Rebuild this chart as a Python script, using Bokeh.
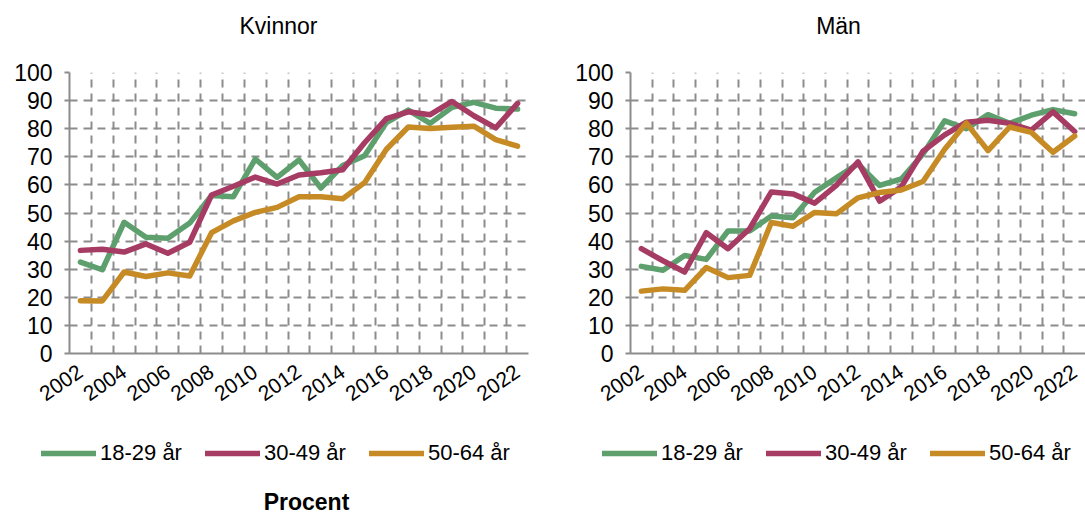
from bokeh.plotting import figure
from bokeh.models import Range1d, FixedTicker, Legend, LegendItem, Label
from bokeh.layouts import row, column
from bokeh.embed import file_html
from bokeh.resources import INLINE

years = list(range(2002, 2023))
year_ticks = list(range(2002, 2023, 2))
y_ticks = list(range(0, 101, 10))
series_labels = ["18-29 år", "30-49 år", "50-64 år"]

kvinnor_18_29 = [32.5, 29.8, 46.7, 41.4, 41.0, 46.4, 56.2, 55.8, 69.2, 62.7, 68.9,
                 58.9, 66.9, 70.4, 82.2, 86.6, 81.9, 87.6, 89.4, 87.3, 87.0]
kvinnor_30_49 = [36.7, 37.1, 36.1, 39.0, 35.7, 39.6, 56.4, 59.5, 62.8, 60.3, 63.5,
                 64.3, 65.4, 75.0, 83.6, 86.0, 85.0, 89.7, 84.6, 80.3, 89.0]
kvinnor_50_64 = [18.8, 18.7, 29.0, 27.4, 28.7, 27.6, 43.0, 47.2, 50.2, 52.0, 55.8,
                 55.8, 55.1, 60.8, 72.7, 80.6, 80.1, 80.5, 80.9, 76.1, 73.8]

man_18_29 = [31.0, 29.6, 34.9, 33.5, 43.6, 43.6, 48.9, 48.3, 57.4, 62.5, 67.5,
             59.8, 62.1, 71.0, 82.8, 80.0, 85.0, 81.9, 84.8, 86.8, 85.3]
man_30_49 = [37.3, 33.0, 29.0, 43.0, 37.3, 44.4, 57.5, 56.8, 53.5, 59.8, 68.2,
             54.2, 59.3, 72.0, 77.8, 82.3, 83.0, 81.9, 79.5, 86.0, 79.0]
man_50_64 = [22.2, 23.0, 22.5, 30.6, 27.0, 27.8, 46.6, 45.3, 50.2, 49.7, 55.4,
             57.3, 58.2, 61.2, 72.7, 82.0, 72.2, 80.6, 78.7, 71.6, 77.4]

colors = ["#5e9f6e", "#a63b63", "#c68b24"]
FONT = "Liberation Sans"
GRID = "#8c8c8c"
TITLE_H = 48
PLOT_H = 362
LEG_H = 106
LINE_W = 5.5


def blank(width, height):
    q = figure(width=width, height=height, output_backend="svg", toolbar_location=None,
               x_range=Range1d(0, 1), y_range=Range1d(0, 1),
               x_axis_type=None, y_axis_type=None,
               min_border_left=0, min_border_right=0, min_border_top=0, min_border_bottom=0)
    q.outline_line_color = None
    return q


def make_title(width, text, x):
    q = blank(width, TITLE_H)
    q.add_layout(Label(x=x, y=23, x_units="screen", y_units="screen", text=text,
                       text_align="center", text_baseline="middle", text_color="#000000",
                       text_font=FONT, text_font_size="23px"))
    return q


def make_panel(data, width, bl, br):
    p = figure(width=width, height=PLOT_H, output_backend="svg", toolbar_location=None,
               x_range=Range1d(2001.5, 2022.5), y_range=Range1d(0, 100),
               min_border_left=bl, min_border_right=br, min_border_top=24,
               min_border_bottom=57)
    p.outline_line_color = None

    for vals, c in zip(data, colors):
        p.line(years, vals, line_color=c, line_width=LINE_W,
               line_join="round", line_cap="round")

    p.xaxis.ticker = FixedTicker(ticks=year_ticks)
    p.yaxis.ticker = FixedTicker(ticks=y_ticks)
    for ax in (p.xaxis[0], p.yaxis[0]):
        ax.axis_line_color = GRID
        ax.axis_line_width = 2
        ax.major_label_text_font = FONT
        ax.major_label_text_color = "#000000"
        ax.minor_tick_line_color = None
    p.xaxis.major_tick_line_color = None
    p.xaxis.major_label_text_font_size = "21px"
    p.xaxis.major_label_orientation = 0.6
    p.xaxis.major_label_standoff = 10
    p.yaxis.major_label_text_font_size = "23px"
    p.yaxis.major_tick_line_color = GRID
    p.yaxis.major_tick_line_width = 2
    p.yaxis.major_tick_out = 5
    p.yaxis.major_tick_in = 0
    p.yaxis.major_label_standoff = 12

    p.xgrid.ticker = FixedTicker(ticks=[y + 0.5 for y in years])
    p.ygrid.ticker = FixedTicker(ticks=y_ticks[1:])
    for g in (p.xgrid[0], p.ygrid[0]):
        g.grid_line_color = GRID
        g.grid_line_width = 2
        g.grid_line_dash = "8 6"
    return p


def make_legend(width, x0, data, bottom_title=None):
    q = blank(width, LEG_H)
    # series drawn outside this strip's visible range; only their legend glyphs show
    rs = [q.line(years, vals, line_color=c, line_width=LINE_W, line_cap="round")
          for vals, c in zip(data, colors)]
    legend = Legend(items=[LegendItem(label=l, renderers=[r]) for l, r in zip(series_labels, rs)],
                    orientation="horizontal", location=(x0, 50),
                    glyph_width=55, glyph_height=24, label_standoff=4, spacing=23,
                    label_text_font=FONT, label_text_font_size="22px",
                    label_text_color="#000000",
                    border_line_color=None, background_fill_alpha=0,
                    margin=0, padding=0)
    q.add_layout(legend, "center")
    if bottom_title:
        q.add_layout(Label(x=306, y=15, x_units="screen", y_units="screen",
                           text=bottom_title, text_align="center", text_baseline="middle",
                           text_color="#000000",
                           text_font=FONT, text_font_size="23px", text_font_style="bold"))
    return q


k_data = [kvinnor_18_29, kvinnor_30_49, kvinnor_50_64]
m_data = [man_18_29, man_30_49, man_50_64]

t_left = make_title(548, "Kvinnor", 278)
t_right = make_title(537, "Män", 290)
left = make_panel(k_data, 548, 69, 20)
right = make_panel(m_data, 537, 82, 0)
leg_left = make_legend(548, 41, k_data, bottom_title="Procent")
leg_right = make_legend(537, 54, m_data)

layout = column(row(t_left, t_right), row(left, right), row(leg_left, leg_right))
open("out.html", "w").write(file_html(layout, INLINE))
